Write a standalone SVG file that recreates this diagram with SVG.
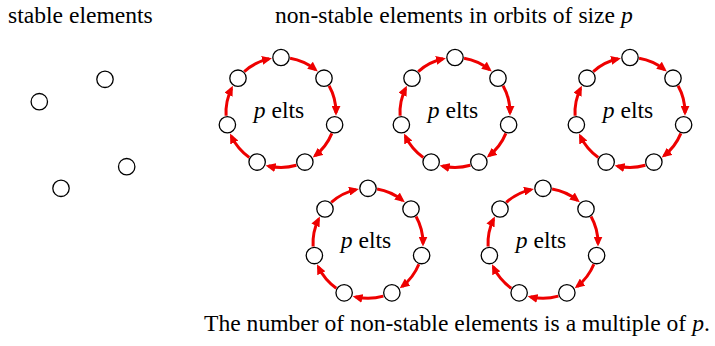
<svg xmlns="http://www.w3.org/2000/svg" xmlns:xlink="http://www.w3.org/1999/xlink" width="715" height="346" viewBox="0 0 715 346">
  <style>
    .t { font-family: "Liberation Serif", "Times New Roman", serif; font-size: 23.6px; fill: #000; }
    .it { font-style: italic; }
    .node { fill: #fff; stroke: #000; stroke-width: 1.3; }
    .arc { fill: none; stroke: #ee0000; stroke-width: 3; marker-end: url(#ah); }
  </style>
  <defs>
    <marker id="ah" markerUnits="userSpaceOnUse" markerWidth="11" markerHeight="9" refX="7" refY="4.5" orient="auto">
      <path d="M0,0 L10,4.5 L0,9 z" fill="#ee0000"/>
    </marker>
    <g id="ring">
      <path class="arc" d="M9.08,-54.25 A55,55 0 0 1 34.47,-42.86"/>
      <path class="arc" d="M48.07,-26.72 A55,55 0 0 1 55,0.25"/>
      <path class="arc" d="M50.86,20.92 A55,55 0 0 1 34.10,43.16"/>
      <path class="arc" d="M15.35,52.81 A55,55 0 0 1 -12.48,53.57"/>
      <path class="arc" d="M-31.72,44.93 A55,55 0 0 1 -49.66,23.64"/>
      <path class="arc" d="M-54.91,3.22 A55,55 0 0 1 -49.45,-24.09"/>
      <path class="arc" d="M-36.75,-40.92 A55,55 0 0 1 -12,-53.68"/>
    </g>
    <g id="nodes7">
      <circle class="node" cx="0" cy="-55" r="8.2"/>
      <circle class="node" cx="43" cy="-34.29" r="8.2"/>
      <circle class="node" cx="53.62" cy="12.24" r="8.2"/>
      <circle class="node" cx="23.86" cy="49.55" r="8.2"/>
      <circle class="node" cx="-23.86" cy="49.55" r="8.2"/>
      <circle class="node" cx="-53.62" cy="12.24" r="8.2"/>
      <circle class="node" cx="-43" cy="-34.29" r="8.2"/>
    </g>
  </defs>

  <text class="t" font-family="Liberation Serif, serif" x="8" y="23">stable elements</text>
  <text class="t" font-family="Liberation Serif, serif" x="275" y="23">non-stable elements in orbits of size <tspan class="it">p</tspan></text>

  <g id="stable">
    <g id="s1"><circle class="node" cx="39.3" cy="101.7" r="8.2"/></g>
    <g id="s2"><circle class="node" cx="105" cy="79.3" r="8.2"/></g>
    <g id="s3"><circle class="node" cx="126.7" cy="166.7" r="8.2"/></g>
    <g id="s4"><circle class="node" cx="61" cy="188.3" r="8.2"/></g>
  </g>

  <g id="connectors">
    <use xlink:href="#ring" href="#ring" transform="translate(281,112.5)"/>
    <use xlink:href="#ring" href="#ring" transform="translate(455,112.5)"/>
    <use xlink:href="#ring" href="#ring" transform="translate(630,112.5)"/>
    <use xlink:href="#ring" href="#ring" transform="translate(368,243.3)"/>
    <use xlink:href="#ring" href="#ring" transform="translate(543,243.3)"/>
  </g>

  <g id="orbit1" transform="translate(281,112.5)">
    <use xlink:href="#nodes7" href="#nodes7"/>
    <text class="t" font-family="Liberation Serif, serif" x="-2" y="5" text-anchor="middle"><tspan class="it">p</tspan> elts</text>
  </g>
  <g id="orbit2" transform="translate(455,112.5)">
    <use xlink:href="#nodes7" href="#nodes7"/>
    <text class="t" font-family="Liberation Serif, serif" x="-2" y="5" text-anchor="middle"><tspan class="it">p</tspan> elts</text>
  </g>
  <g id="orbit3" transform="translate(630,112.5)">
    <use xlink:href="#nodes7" href="#nodes7"/>
    <text class="t" font-family="Liberation Serif, serif" x="-2" y="5" text-anchor="middle"><tspan class="it">p</tspan> elts</text>
  </g>
  <g id="orbit4" transform="translate(368,243.3)">
    <use xlink:href="#nodes7" href="#nodes7"/>
    <text class="t" font-family="Liberation Serif, serif" x="-2" y="5" text-anchor="middle"><tspan class="it">p</tspan> elts</text>
  </g>
  <g id="orbit5" transform="translate(543,243.3)">
    <use xlink:href="#nodes7" href="#nodes7"/>
    <text class="t" font-family="Liberation Serif, serif" x="-2" y="5" text-anchor="middle"><tspan class="it">p</tspan> elts</text>
  </g>

  <text class="t" font-family="Liberation Serif, serif" x="204" y="331">The number of non-stable elements is a multiple of <tspan class="it">p</tspan>.</text>
</svg>
